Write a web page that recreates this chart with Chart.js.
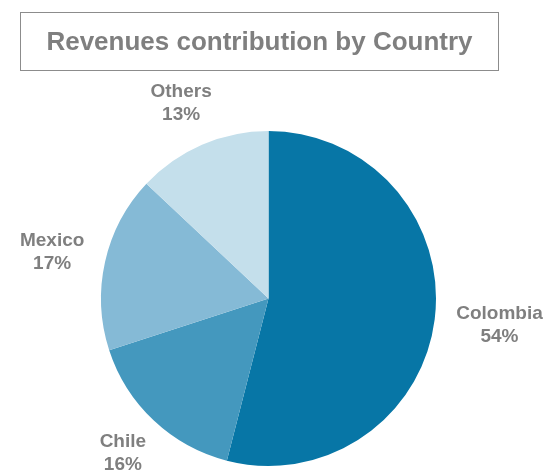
<!DOCTYPE html>
<html>
<head>
<meta charset="utf-8">
<script src="https://cdn.jsdelivr.net/npm/chart.js@4"></script>
<style>
  html, body { margin: 0; padding: 0; background: #fff; }
  #wrap { position: relative; width: 557px; height: 476px; }
  #title {
    position: absolute; left: 20px; top: 12px; width: 479px; height: 59px;
    border: 1px solid #8c8c8c; box-sizing: border-box;
    font: bold 26px "Liberation Sans", Arial, sans-serif; color: #7f7f7f;
    display: flex; align-items: center; justify-content: center;
  }
  canvas { position: absolute; left: 0; top: 0; }
</style>
</head>
<body>
<div id="wrap">
  <canvas id="countryChart" width="557" height="476"></canvas>
  <div id="title">Revenues contribution by Country</div>
</div>
<script>
const countries = ['Colombia', 'Chile', 'Mexico', 'Others'];
const shares = [54, 16, 17, 13];
const sliceColors = ['#0776a6', '#4498be', '#85bad6', '#c4dfeb'];

// "Name / NN%" outside each slice: the text block is pushed out along the
// slice's middle ray so its near side sits a fixed gap past the rim
const outsideLabels = {
  id: 'outsideLabels',
  afterDatasetsDraw(chart) {
    const ctx = chart.ctx;
    const meta = chart.getDatasetMeta(0);
    const gap = 22;
    const lineGap = 23;
    ctx.save();
    ctx.font = 'bold 19px "Liberation Sans", Arial, sans-serif';
    ctx.fillStyle = '#7f7f7f';
    ctx.textAlign = 'center';
    ctx.textBaseline = 'middle';
    meta.data.forEach((arc, i) => {
      const p = arc.getProps(['x', 'y', 'startAngle', 'endAngle', 'outerRadius'], true);
      const mid = (p.startAngle + p.endAngle) / 2;
      const dx = Math.cos(mid), dy = Math.sin(mid);
      const halfW = Math.max(ctx.measureText(countries[i]).width, ctx.measureText(shares[i] + '%').width) / 2;
      const halfH = lineGap;
      const cx = p.x + dx * (p.outerRadius + gap + halfW);
      const cy = p.y + dy * (p.outerRadius + gap + halfH);
      ctx.fillText(countries[i], cx, cy - lineGap / 2);
      ctx.fillText(shares[i] + '%', cx, cy + lineGap / 2);
    });
    ctx.restore();
  }
};

new Chart(document.getElementById('countryChart').getContext('2d'), {
  type: 'pie',
  data: {
    labels: countries,
    datasets: [{
      data: shares,
      backgroundColor: sliceColors,
      borderWidth: 0
    }]
  },
  options: {
    responsive: false,
    animation: false,
    layout: {
      padding: { top: 131, bottom: 10, left: 101, right: 121 }
    },
    plugins: {
      legend: { display: false },
      tooltip: { enabled: false }
    }
  },
  plugins: [outsideLabels]
});
</script>
</body>
</html>
